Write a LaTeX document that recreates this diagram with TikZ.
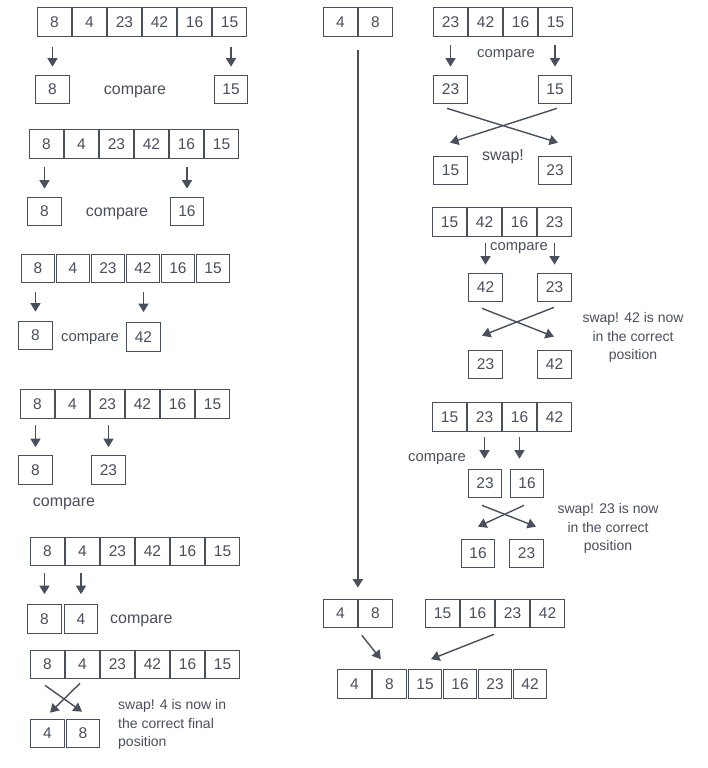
\documentclass[tikz,border=0pt]{standalone}
\usepackage{fontspec}
\setmainfont{Liberation Sans}
\usetikzlibrary{arrows.meta,calc}
\definecolor{ink}{RGB}{74,79,92}
\newcommand\cellrow[4]{\foreach \v [count=\i] in {#4} {\node[cell] (#1-\i) at ({#2+35*(\i-1)},#3) {\v};}}
\begin{document}
\begin{tikzpicture}[x=1pt,y=-1pt,
 cell/.style={draw=ink,line width=1.2pt,minimum width=33.5pt,minimum height=28.5pt,inner sep=0pt,text=ink,font=\fontsize{15.5}{18}\selectfont},
 arr/.style={draw=ink,line width=1.4pt,-{Triangle[length=8.5pt,width=10pt]}},
 lbl/.style={text=ink,inner sep=0pt,yshift=-2pt,font=\fontsize{16}{19}\selectfont},
 lbls/.style={text=ink,inner sep=0pt,yshift=-1.5pt,font=\fontsize{14.8}{18}\selectfont},
 note/.style={text=ink,inner sep=0pt,yshift=-1.5pt,font=\fontsize{14}{18.5}\selectfont}]
\useasboundingbox[fill=white] (0,0) rectangle (707,768);

% ---------- left column ----------
% row 1
\cellrow{a1}{54.5}{22}{8,4,23,42,16,15}
\node[cell] (b1a) at (52.5,89.5) {8};
\node[cell] (b1b) at (231,89.5) {15};
\node[lbl] (t1) at (135,90) {compare};
\draw[arr,shorten <=10pt,shorten >=8pt] (b1a.north |- a1-1.south) -- (b1a.north);
\draw[arr,shorten <=10pt,shorten >=8pt] (b1b.north |- a1-6.south) -- (b1b.north);

% row 2
\cellrow{a2}{46.5}{144}{8,4,23,42,16,15}
\node[cell] (b2a) at (44.5,211.5) {8};
\node[cell] (b2b) at (187,211.5) {16};
\node[lbl] (t2) at (117,212) {compare};
\draw[arr,shorten <=8pt,shorten >=8pt] (b2a.north |- a2-1.south) -- (b2a.north);
\draw[arr,shorten <=8pt,shorten >=8pt] (b2b.north |- a2-5.south) -- (b2b.north);

% row 3
\cellrow{a3}{38}{268.5}{8,4,23,42,16,15}
\node[cell] (b3a) at (35.5,335.5) {8};
\node[cell] (b3b) at (143.5,337) {42};
\node[lbls] (t3) at (90,338) {compare};
\draw[arr,shorten <=9pt,shorten >=9pt] (b3a.north |- a3-1.south) -- (b3a.north);
\draw[arr,shorten <=9pt,shorten >=10pt] (b3b.north |- a3-4.south) -- (b3b.north);

% row 4
\cellrow{a4}{37.5}{404}{8,4,23,42,16,15}
\node[cell] (b4a) at (35.5,470) {8};
\node[cell] (b4b) at (108.5,470) {23};
\node[lbl] (t4) at (64,502) {compare};
\draw[arr,shorten <=6pt,shorten >=8pt] (b4a.north |- a4-1.south) -- (b4a.north);
\draw[arr,shorten <=6pt,shorten >=8pt] (b4b.north |- a4-3.south) -- (b4b.north);

% row 5
\cellrow{a5}{47.5}{551.5}{8,4,23,42,16,15}
\node[cell] (b5a) at (44.5,619) {8};
\node[cell] (b5b) at (81,619) {4};
\node[lbl,anchor=west] (t5) at (110,619) {compare};
\draw[arr,shorten <=7pt,shorten >=10pt] (b5a.north |- a5-1.south) -- (b5a.north);
\draw[arr,shorten <=7pt,shorten >=10pt] (b5b.north |- a5-2.south) -- (b5b.north);

% row 6
\cellrow{a6}{47.5}{664.5}{8,4,23,42,16,15}
\node[cell] (c6a) at (47.5,733.5) {4};
\node[cell] (c6b) at (83,733.5) {8};
\draw[arr] ($(a6-1.south)+(-2.5,6)$) -- ($(c6b.north)+(-1,-7)$);
\draw[arr] ($(a6-2.south)+(-2.5,4)$) -- ($(c6a.north)+(2.5,-6)$);
\node[note,anchor=west,align=left] (n6) at (118,723) {swap! 4 is now in\\the correct final\\position};

% ---------- right column ----------
\cellrow{r0}{340.5}{22}{4,8}
\cellrow{bl}{340.5}{613.5}{4,8}
\draw[arr,shorten <=13pt,shorten >=11pt] (r0-1.south east) -- (bl-1.north east);

% R1
\cellrow{r1}{450.5}{22}{23,42,16,15}
\node[cell] (t1a) at (450.5,89.5) {23};
\node[cell] (t1b) at (555,89.5) {15};
\node[lbls] (c1) at (506,54) {compare};
\draw[arr,shorten <=8pt,shorten >=8pt] (t1a.north |- r1-1.south) -- (t1a.north);
\draw[arr,shorten <=8pt,shorten >=8pt] (t1b.north |- r1-4.south) -- (t1b.north);
\node[cell] (u1a) at (450.5,170.5) {15};
\node[cell] (u1b) at (555,170.5) {23};
\draw[arr] ($(t1a.south)+(-3.5,4)$) -- ($(u1b.north)+(3,-13)$);
\draw[arr] ($(t1b.south)+(2,4)$) -- ($(u1a.north)+(-0.5,-13)$);
\node[lbl] (s1) at (503,155) {swap!};

% R2
\cellrow{r2}{449.5}{222}{15,42,16,23}
\node[cell] (t2a) at (485.5,287.5) {42};
\node[cell] (t2b) at (554.5,287.5) {23};
\node[lbls] (c2) at (519,247) {compare};
\draw[arr,shorten <=6pt,shorten >=8pt] (t2a.north |- r2-2.south) -- (t2a.north);
\draw[arr,shorten <=6pt,shorten >=8pt] (t2b.north |- r2-4.south) -- (t2b.north);
\node[cell] (u2a) at (485.5,364.5) {23};
\node[cell] (u2b) at (554.5,364.5) {42};
\draw[arr] ($(t2a.south)+(-3.5,6)$) -- ($(u2b.north)+(-0.5,-13)$);
\draw[arr] ($(t2b.south)+(-0.5,5)$) -- ($(u2a.north)+(-3.5,-14)$);
\node[note,align=center] (n2) at (633,336) {swap! 42 is now\\in the correct\\position};

% R3
\cellrow{r3}{449.5}{417}{15,23,16,42}
\node[cell] (t3a) at (485,483.5) {23};
\node[cell] (t3b) at (527,483.5) {16};
\node[lbls] (c3) at (437,458) {compare};
\draw[arr,shorten <=5pt,shorten >=10pt] (r3-2.south) -- (r3-2.south |- t3a.north);
\draw[arr,shorten <=5pt,shorten >=10pt] (r3-3.south) -- (r3-3.south |- t3b.north);
\node[cell] (u3a) at (478,553.5) {16};
\node[cell] (u3b) at (526.5,553.5) {23};
\draw[arr] ($(t3a.south)+(-3,7)$) -- ($(u3b.north)+(9.5,-12)$);
\draw[arr] ($(t3b.south)+(-3,7)$) -- ($(u3a.north)+(0,-12)$);
\node[note,align=center] (n3) at (608,527) {swap! 23 is now\\in the correct\\position};

% bottom merge
\cellrow{br}{442.5}{613.5}{15,16,23,42}
\cellrow{f}{354.5}{684}{4,8}
\cellrow{g}{425}{684}{15,16,23,42}
\draw[arr] ($(bl-1.south east)+(4,7)$) -- ($(f-1.north east)+(9,-10)$);
\draw[arr] ($(br-2.south east)+(-1,6)$) -- ($(g-1.north)+(6,-10)$);
\end{tikzpicture}
\end{document}
